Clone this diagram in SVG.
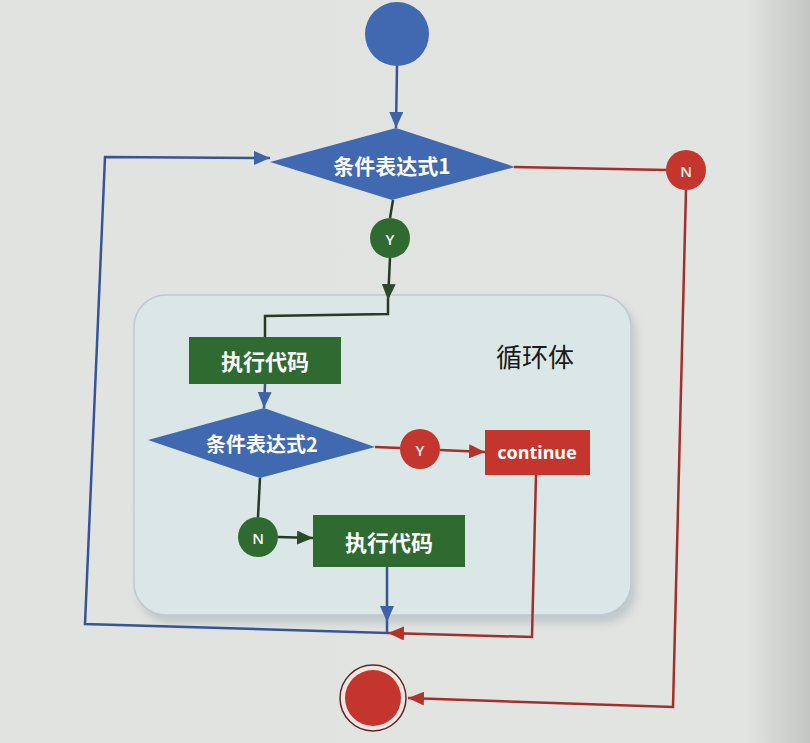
<svg xmlns="http://www.w3.org/2000/svg" width="810" height="743" viewBox="0 0 810 743">
<defs>
<linearGradient id="bg" x1="0" y1="0" x2="1" y2="0">
<stop offset="0" stop-color="#e1e3e1"/>
<stop offset="0.92" stop-color="#e2e4e2"/>
<stop offset="1" stop-color="#c4c6c4"/>
</linearGradient>
<filter id="sh" x="-10%" y="-10%" width="120%" height="120%">
<feGaussianBlur stdDeviation="4"/>
</filter>
<marker id="ab" markerUnits="userSpaceOnUse" markerWidth="16" markerHeight="14" refX="16" refY="7" orient="auto"><path d="M0,0 L16,7 L0,14 z" fill="#3f63a8"/></marker>
<marker id="ar" markerUnits="userSpaceOnUse" markerWidth="16" markerHeight="14" refX="16" refY="7" orient="auto"><path d="M0,0 L16,7 L0,14 z" fill="#b3332c"/></marker>
<marker id="ag" markerUnits="userSpaceOnUse" markerWidth="16" markerHeight="14" refX="16" refY="7" orient="auto"><path d="M0,0 L16,7 L0,14 z" fill="#2b4a2b"/></marker>
<style>
.cjk{font-family:"Noto Sans CJK SC","Noto Sans",sans-serif;font-weight:bold;fill:#ffffff;text-anchor:middle;dominant-baseline:central}
.lat{font-family:"Noto Sans","Liberation Sans",sans-serif;font-weight:bold;fill:#ffffff;text-anchor:middle;dominant-baseline:central}
.yn{font-family:"Open Sans","Noto Sans",sans-serif;font-weight:600;fill:#f4f4f4;text-anchor:middle;dominant-baseline:central;font-size:15px}
.blue{fill:#4169b1}
.green{fill:#2f6b30}
.red{fill:#c4352d}
.lb{fill:none;stroke:#35559a;stroke-width:2.5}
.lr{fill:none;stroke:#a52e28;stroke-width:2.5}
.lg{fill:none;stroke:#263a26;stroke-width:2.5}
</style>
</defs>
<rect width="810" height="743" fill="url(#bg)"/>

<g id="loopbody">
<rect x="138" y="301" width="498" height="322" rx="32" fill="#aab6bb" opacity="0.6" filter="url(#sh)"/>
<rect x="134" y="295" width="497" height="320" rx="32" fill="#dbe6e7" stroke="#bccbd0" stroke-width="1.5"/>
<text x="535" y="355" font-family="'Noto Sans CJK SC',sans-serif" font-size="26" fill="#1a1a1a" text-anchor="middle" dominant-baseline="central">循环体</text>
</g>

<g id="connectors">
<path class="lb" d="M397,66 L396,128" marker-end="url(#ab)"/>
<path class="lb" d="M387,567 L387,622" marker-end="url(#ab)"/>
<path class="lb" d="M387,622 L387,633 L85,624 L105,157 L270,158" marker-end="url(#ab)"/>
<path class="lg" d="M393,200 L390,218"/>
<path class="lg" d="M390,258 L388,300" marker-end="url(#ag)"/>
<path class="lg" d="M388,300 L388,314 L265,316 L265,337"/>
<path class="lb" d="M265,384 L264,408" marker-end="url(#ab)"/>
<path class="lr" d="M375,447 L400,448"/>
<path class="lr" d="M440,450 L485,452" marker-end="url(#ar)"/>
<path class="lr" d="M536,475 L532,637 L388,633" marker-end="url(#ar)"/>
<path class="lg" d="M260,478 L258,517"/>
<path class="lg" d="M278,537 L313,538" marker-end="url(#ag)"/>
<path class="lr" d="M514,167 L666,170"/>
<path class="lr" d="M686,190 L673,707 L408,698" marker-end="url(#ar)"/>
</g>

<g id="start"><circle cx="397" cy="34" r="32" class="blue"/></g>

<g id="cond1">
<polygon points="270,162 396,128 515,167 392,200" class="blue"/>
<text x="392" y="165" class="cjk" font-size="21">条件表达式1</text>
</g>

<g id="y1"><circle cx="390" cy="238" r="20" class="green"/><text x="390" y="239" class="yn">Y</text></g>

<g id="n1"><circle cx="686" cy="170" r="20" class="red"/><text x="686" y="171" class="yn">N</text></g>

<g id="exec1">
<rect x="189" y="337" width="152" height="47" class="green"/>
<text x="265" y="360" class="cjk" font-size="22">执行代码</text>
</g>

<g id="cond2">
<polygon points="148,440 264,408 375,447 260,478" class="blue"/>
<text x="262" y="443" class="cjk" font-size="20">条件表达式2</text>
</g>

<g id="y2"><circle cx="420" cy="449" r="20" class="red"/><text x="420" y="450" class="yn">Y</text></g>

<g id="continue">
<rect x="485" y="430" width="105" height="45" class="red"/>
<text x="537" y="452" class="lat" font-size="18">continue</text>
</g>

<g id="n2"><circle cx="258" cy="537" r="20" class="green"/><text x="258" y="538" class="yn">N</text></g>

<g id="exec2">
<rect x="313" y="515" width="152" height="52" class="green"/>
<text x="389" y="541" class="cjk" font-size="22">执行代码</text>
</g>

<g id="end">
<circle cx="373" cy="698" r="33" fill="#f2e4e0" stroke="#5a2a26" stroke-width="1.5"/>
<circle cx="373" cy="698" r="28" class="red"/>
</g>
</svg>
